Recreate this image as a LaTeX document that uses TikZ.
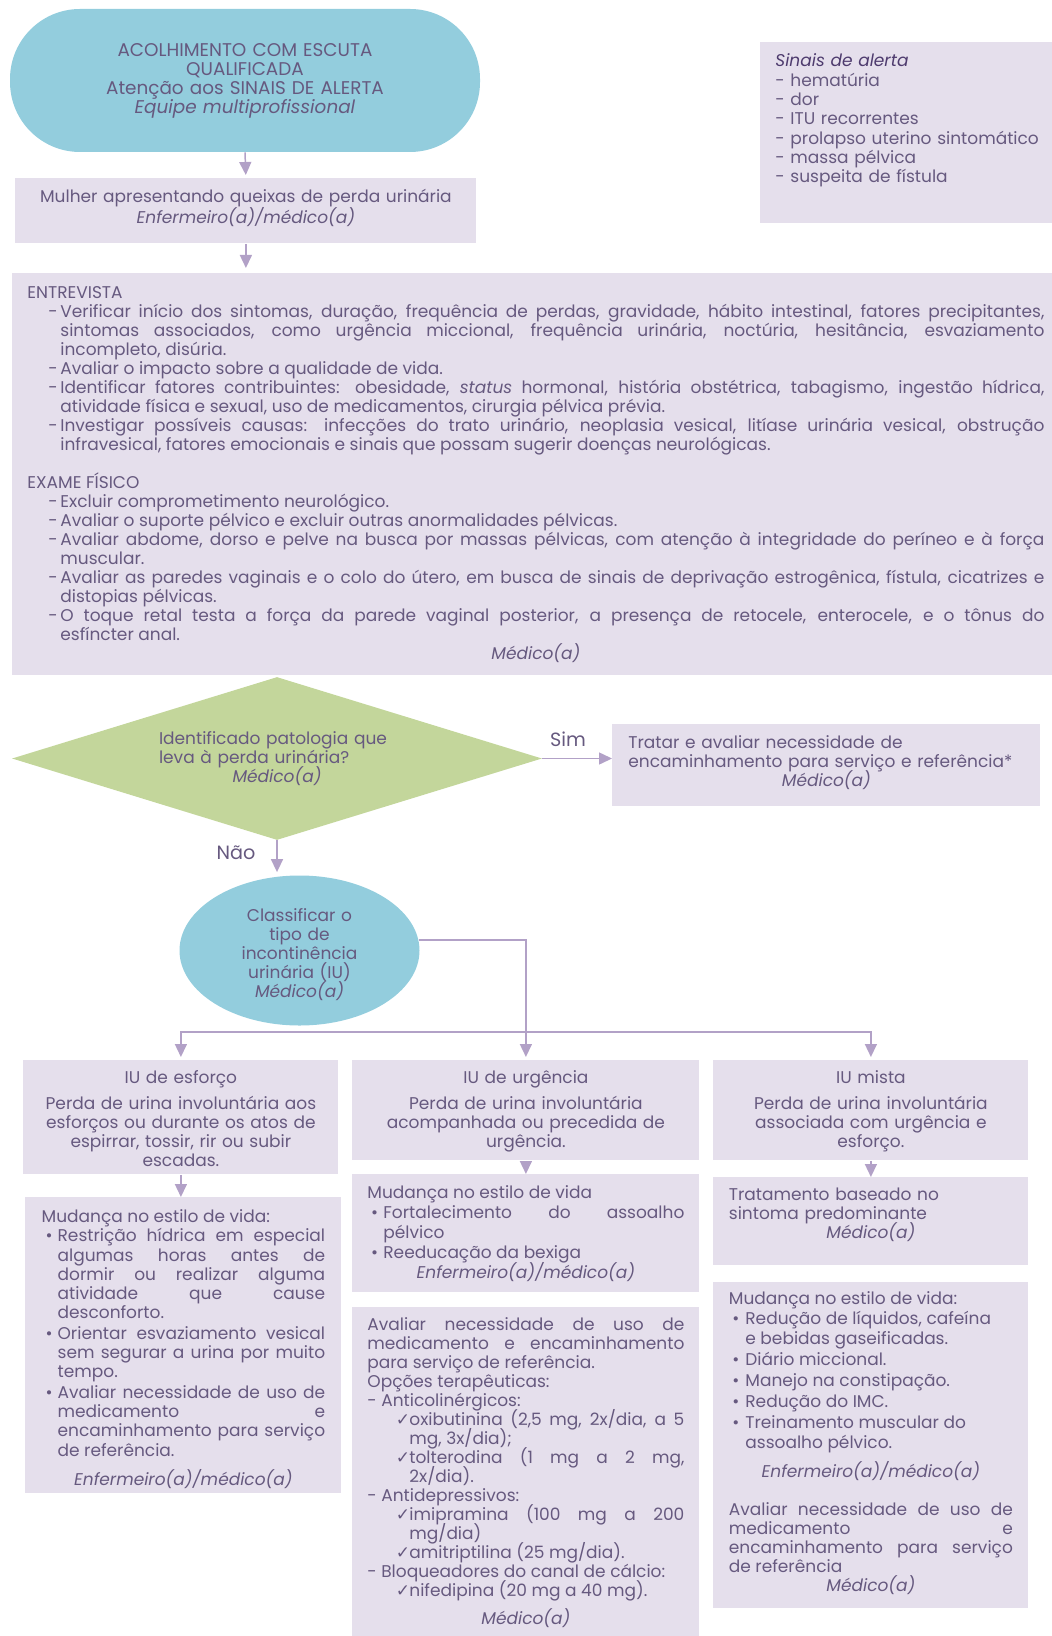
\documentclass[tikz,border=0pt]{standalone}
\usepackage{fontspec}
\setmainfont{Poppins}
\newfontfamily\symfont{DejaVu Sans}
\usetikzlibrary{arrows.meta,shapes.geometric}

\definecolor{boxfill}{HTML}{E5DFEC}
\definecolor{bluefill}{HTML}{93CDDD}
\definecolor{greenfill}{HTML}{C3D69B}
\definecolor{txt}{HTML}{66597F}
\definecolor{txtdark}{HTML}{4E3B6E}
\definecolor{arrowc}{HTML}{B2A1C7}

% text size of the nodes, with a given line distance
\newcommand{\fontls}[1]{\fontsize{8.5pt}{#1}\selectfont\lineskiplimit=-8pt\relax}
\newcommand{\nodefont}{\fontls{9.5pt}}
% item with a mark: offset of the mark, mark, indent of the text
\newcommand{\markitem}[3]{\par\noindent\hangindent=#3\relax\hangafter=1\makebox[#3][l]{\hspace*{#1}#2}}
\newcommand{\chk}{{\symfont ✓}}

\tikzset{
  box/.style={fill=boxfill, anchor=north west, inner ysep=0pt},
  arr/.style={draw=arrowc, line width=0.75pt, -{Triangle[width=6pt,length=6.5pt]}},
}

\begin{document}
\begin{tikzpicture}[x=0.5pt,y=-0.5pt,
    every node/.style={font=\nodefont, text=txt}]

  \useasboundingbox (0,0) rectangle (1051,1636);

  \node (acolh) [fill=bluefill, rounded corners=35pt, minimum width=235pt,
    minimum height=71.5pt, text width=235pt, align=center, inner sep=0pt,
    font=\fontsize{9.2pt}{9.5pt}\selectfont]
    at (245,80.5) {ACOLHIMENTO COM ESCUTA\\QUALIFICADA\\Atenção aos SINAIS DE ALERTA\\\emph{Equipe multiprofissional}};

  \node (sinais) [box, inner xsep=7.5pt, text width=136pt, text height=12.25pt,
    text depth=78.25pt, align=left, font=\fontls{9.65pt}] at (760,42)
    {{\color{txtdark}\itshape Sinais de alerta}\\- hematúria\\- dor\\- ITU recorrentes\\- prolapso uterino sintomático\\- massa pélvica\\- suspeita de fístula};

  \node (mulher) [box, inner xsep=5pt, text width=220.5pt, text height=12.25pt,
    text depth=20.25pt, align=center, font=\fontls{10.4pt}] at (15,178)
    {Mulher apresentando queixas de perda urinária\\\emph{Enfermeiro(a)/médico(a)}};

  \node (exame) [box, inner xsep=7.5pt, text width=508.5pt, text height=12.5pt,
    text depth=188.5pt, align=justify] at (12,273) {%
    ENTREVISTA
    \markitem{10.5pt}{-}{16.5pt}Verificar início dos sintomas, duração, frequência de perdas, gravidade, hábito intestinal, fatores precipitantes,\linebreak sintomas associados, como urgência miccional, frequência urinária, noctúria, hesitância, esvaziamento\linebreak incompleto, disúria.
    \markitem{10.5pt}{-}{16.5pt}Avaliar o impacto sobre a qualidade de vida.
    \markitem{10.5pt}{-}{16.5pt}Identificar fatores contribuintes: obesidade, \emph{status} hormonal, história obstétrica, tabagismo, ingestão hídrica,\linebreak atividade física e sexual, uso de medicamentos, cirurgia pélvica prévia.
    \markitem{10.5pt}{-}{16.5pt}Investigar possíveis causas: infecções do trato urinário, neoplasia vesical, litíase urinária vesical, obstrução\linebreak infravesical, fatores emocionais e sinais que possam sugerir doenças neurológicas.\par
    \vspace{9.5pt}\noindent EXAME FÍSICO
    \markitem{10.5pt}{-}{16.5pt}Excluir comprometimento neurológico.
    \markitem{10.5pt}{-}{16.5pt}Avaliar o suporte pélvico e excluir outras anormalidades pélvicas.
    \markitem{10.5pt}{-}{16.5pt}Avaliar abdome, dorso e pelve na busca por massas pélvicas, com atenção à integridade do períneo e à força\linebreak muscular.
    \markitem{10.5pt}{-}{16.5pt}Avaliar as paredes vaginais e o colo do útero, em busca de sinais de deprivação estrogênica, fístula, cicatrizes e\linebreak distopias pélvicas.
    \markitem{10.5pt}{-}{16.5pt}O toque retal testa a força da parede vaginal posterior, a presença de retocele, enterocele, e o tônus do\linebreak esfíncter anal.\par
    {\centering\itshape Médico(a)\par}};

  \node (decide) [diamond, fill=greenfill, aspect=3.25, minimum width=265pt,
    minimum height=81.5pt, inner sep=0pt, text width=118pt, align=left]
    at (277,758.5) {Identificado patologia que\\leva à perda urinária?\par{\centering\itshape Médico(a)\par}};

  \node (tratar) [box, inner xsep=8pt, text width=198pt, text height=12pt,
    text depth=29pt, align=left] at (612,724)
    {Tratar e avaliar necessidade de\\encaminhamento para serviço e referência*\par{\centering\itshape Médico(a)\par}};

  \node (sim) [font=\fontsize{9.6pt}{10pt}\selectfont] at (568,739) {Sim};
  \node (nao) [font=\fontsize{9.6pt}{10pt}\selectfont] at (236,853) {Não};

  \node (classif) [ellipse, fill=bluefill, minimum width=120pt, minimum height=75pt,
    inner sep=0pt, text width=72pt, text height=10.5pt, align=center] at (299.5,950.5)
    {Classificar o\\tipo de\\incontinência\\urinária (IU)\\\emph{Médico(a)}};

  \coordinate (split) at (525,1032);

  \node (etype) [box, inner xsep=5pt, text width=147.5pt, text height=11.5pt,
    text depth=45.5pt, align=center] at (23,1060)
    {IU de esforço\\[3.5pt]Perda de urina involuntária aos\\esforços ou durante os atos de\\espirrar, tossir, rir ou subir\\escadas.};
  \node (utype) [box, inner xsep=5pt, text width=163.5pt, text height=11.5pt,
    text depth=38.5pt, align=center] at (352,1060)
    {IU de urgência\\[3.5pt]Perda de urina involuntária\\acompanhada ou precedida de\\urgência.};
  \node (mtype) [box, inner xsep=5pt, text width=147.5pt, text height=11.5pt,
    text depth=38.5pt, align=center] at (713,1060)
    {IU mista\\[3.5pt]Perda de urina involuntária\\associada com urgência e\\esforço.};

  \node (elife) [box, inner xsep=8.125pt, text width=141.75pt, text height=12.5pt,
    text depth=135.5pt, align=justify, font=\fontls{9.65pt}] at (25,1197) {%
    \noindent Mudança no estilo de vida:
    \markitem{2pt}{\textbullet}{8pt}Restrição hídrica em especial\linebreak algumas horas antes de\linebreak dormir ou realizar alguma\linebreak atividade que cause\linebreak desconforto.\par\vspace{0.5pt}
    \markitem{2pt}{\textbullet}{8pt}Orientar esvaziamento vesical\linebreak sem segurar a urina por muito\linebreak tempo.\par\vspace{0.5pt}
    \markitem{2pt}{\textbullet}{8pt}Avaliar necessidade de uso de\linebreak medicamento e\linebreak encaminhamento para serviço\linebreak de referência.\par
    \vspace{5pt}{\centering\itshape Enfermeiro(a)/médico(a)\par}};

  \node (ulife) [box, inner xsep=7.5pt, text width=158.5pt, text height=12.25pt,
    text depth=46.75pt, align=justify, font=\fontls{10pt}] at (352,1174) {%
    \noindent Mudança no estilo de vida
    \markitem{1.8pt}{\textbullet}{8pt}Fortalecimento do assoalho\linebreak pélvico
    \markitem{1.8pt}{\textbullet}{8pt}Reeducação da bexiga\par
    {\centering\itshape Enfermeiro(a)/médico(a)\par}};

  \node (umed) [box, inner xsep=7.5pt, text width=158.5pt, text height=11.75pt,
    text depth=152.75pt, align=justify] at (352,1307) {%
    \noindent Avaliar necessidade de uso de\linebreak medicamento e encaminhamento\linebreak para serviço de referência.\par
    \noindent Opções terapêuticas:\par
    \noindent - Anticolinérgicos:
    \markitem{14.25pt}{\chk}{21pt}oxibutinina (2,5 mg, 2x/dia, a 5\linebreak mg, 3x/dia);
    \markitem{14.25pt}{\chk}{21pt}tolterodina (1 mg a 2 mg,\linebreak 2x/dia).\par
    \noindent - Antidepressivos:
    \markitem{14.25pt}{\chk}{21pt}imipramina (100 mg a 200\linebreak mg/dia)
    \markitem{14.25pt}{\chk}{21pt}amitriptilina (25 mg/dia).\par
    \noindent - Bloqueadores do canal de cálcio:
    \markitem{14.25pt}{\chk}{21pt}nifedipina (20 mg a 40 mg).\par
    \vspace{4.5pt}{\centering\itshape Médico(a)\par}};

  \node (mtrat) [box, inner xsep=7.75pt, text width=142pt, text height=11.75pt,
    text depth=32.25pt, align=left] at (713,1177)
    {Tratamento baseado no\\sintoma predominante\par{\centering\itshape Médico(a)\par}};

  \node (mlife) [box, inner xsep=7.75pt, text width=142pt, text height=11.25pt,
    text depth=151.75pt, align=justify, font=\fontls{9.9pt}] at (713,1282) {%
    \noindent Mudança no estilo de vida:
    \markitem{1.75pt}{\textbullet}{8.25pt}Redução de líquidos, cafeína\\e bebidas gaseificadas.\par\vspace{0.6pt}
    \markitem{1.75pt}{\textbullet}{8.25pt}Diário miccional.\par\vspace{0.6pt}
    \markitem{1.75pt}{\textbullet}{8.25pt}Manejo na constipação.\par\vspace{0.6pt}
    \markitem{1.75pt}{\textbullet}{8.25pt}Redução do IMC.\par\vspace{0.6pt}
    \markitem{1.75pt}{\textbullet}{8.25pt}Treinamento muscular do\\assoalho pélvico.\par
    \vspace{4.5pt}{\centering\itshape Enfermeiro(a)/médico(a)\par}
    \vspace{9.5pt}\nodefont\noindent Avaliar necessidade de uso de\linebreak medicamento e\linebreak encaminhamento para serviço\linebreak de referência\par
    {\centering\itshape Médico(a)\par}};

  % connectors
  \draw[arr, shorten >=1.5pt] (acolh.south) -- (mulher.north);
  \draw[arr, shorten >=2.5pt] (mulher.south) -- (mulher.south |- exame.north);
  \draw[arr] (decide.east) -- (decide.east -| tratar.west);
  \draw[arr, shorten >=1.5pt] (decide.south) -- (decide.south |- classif.north);
  \draw[arr, shorten >=1.5pt] (classif.5) -| (utype.north);
  \draw[arr, shorten >=1.5pt] (split) -| (etype.north);
  \draw[arr, shorten >=1.5pt] (split) -| (mtype.north);
  \draw[arr] (etype.south) -- (etype.south |- elife.north);
  \draw[arr] (utype.south) -- (utype.south |- ulife.north);
  \draw[arr] (mtype.south) -- (mtype.south |- mtrat.north);

\end{tikzpicture}
\end{document}
